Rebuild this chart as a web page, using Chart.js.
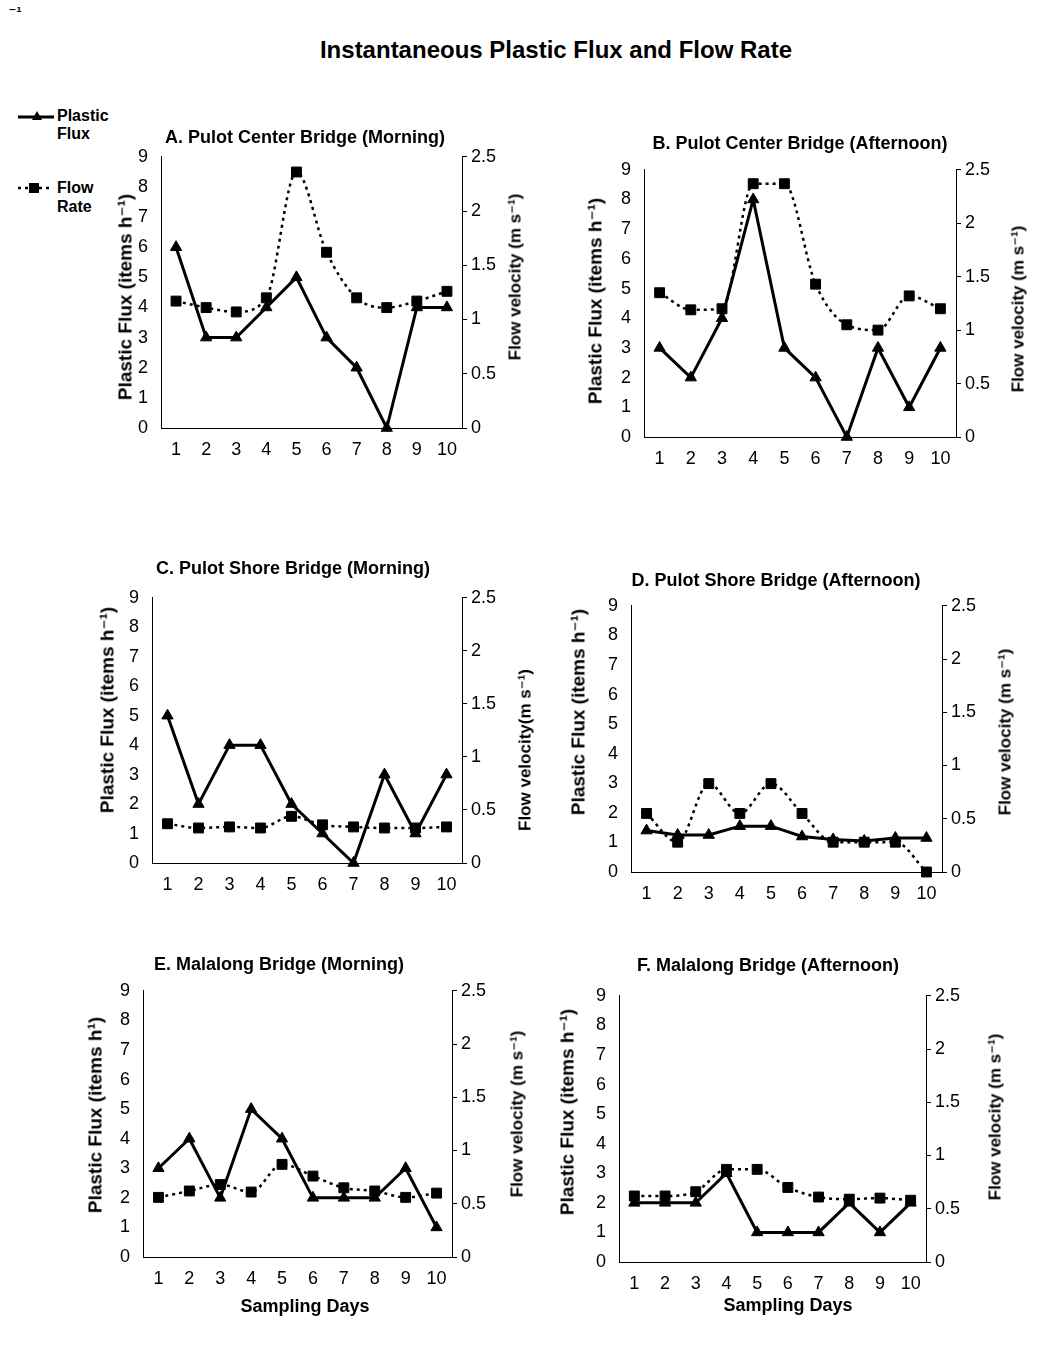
<!DOCTYPE html>
<html>
<head>
<meta charset="utf-8">
<script src="https://cdn.jsdelivr.net/npm/chart.js@4.4.0/dist/chart.umd.min.js"></script>
<style>
  html, body { margin:0; padding:0; background:#fff; }
  body { width:1064px; height:1348px; position:relative; overflow:hidden;
         font-family:'Liberation Sans', Arial, 'DejaVu Sans', sans-serif; color:#000; }
  .t { position:absolute; white-space:nowrap; line-height:1; font-weight:bold; transform:translate(-50%,-50%); }
  .v { transform:translate(-50%,-50%) rotate(-90deg); }
  canvas { position:absolute; }
</style>
</head>
<body>
<div class="t" style="left:15px;top:11px;font-size:15px;">⁻¹</div>
<div class="t" style="left:556px;top:50px;font-size:24px;">Instantaneous Plastic Flux and Flow Rate</div>

<svg style="position:absolute;left:0;top:0" width="60" height="220">
  <line x1="18" y1="117" x2="54" y2="117" stroke="#000" stroke-width="3"/>
  <polygon points="37,111 42,120 32,120" fill="#000"/>
  <line x1="18" y1="188" x2="53" y2="188" stroke="#000" stroke-width="2.5" stroke-dasharray="3,4"/>
  <rect x="29" y="183" width="10" height="10" fill="#000"/>
</svg>
<div class="t" style="left:57px;top:116px;font-size:16px;transform:translate(0,-50%);">Plastic</div>
<div class="t" style="left:57px;top:134px;font-size:16px;transform:translate(0,-50%);">Flux</div>
<div class="t" style="left:57px;top:188px;font-size:16px;transform:translate(0,-50%);">Flow</div>
<div class="t" style="left:57px;top:207px;font-size:16px;transform:translate(0,-50%);">Rate</div>

<div id="wrap"></div>

<script>
// ---- data ----
const days = ['1','2','3','4','5','6','7','8','9','10'];

const fluxA = [6, 3, 3, 4, 5, 3, 2, 0, 4, 4];
const flowA = [1.17, 1.11, 1.07, 1.20, 2.36, 1.62, 1.20, 1.11, 1.17, 1.26];

const fluxB = [3, 2, 4, 8, 3, 2, 0, 3, 1, 3];
const flowB = [1.35, 1.19, 1.20, 2.37, 2.37, 1.43, 1.05, 1.00, 1.32, 1.20];

const fluxC = [5, 2, 4, 4, 2, 1, 0, 3, 1, 3];
const flowC = [0.37, 0.33, 0.34, 0.33, 0.44, 0.36, 0.34, 0.33, 0.33, 0.34];

const fluxD = [1.4, 1.25, 1.25, 1.55, 1.55, 1.2, 1.1, 1.05, 1.15, 1.15];
const flowD = [0.55, 0.28, 0.83, 0.55, 0.83, 0.55, 0.28, 0.28, 0.28, 0];

const fluxE = [3, 4, 2, 5, 4, 2, 2, 2, 3, 1];
const flowE = [0.56, 0.62, 0.68, 0.61, 0.87, 0.76, 0.65, 0.62, 0.56, 0.60];

const fluxF = [2, 2, 2, 3, 1, 1, 1, 2, 1, 2];
const flowF = [0.62, 0.62, 0.66, 0.87, 0.87, 0.70, 0.61, 0.59, 0.60, 0.58];

const panelTitles = [
  'A. Pulot Center Bridge (Morning)',
  'B. Pulot Center Bridge (Afternoon)',
  'C. Pulot Shore Bridge (Morning)',
  'D. Pulot Shore Bridge (Afternoon)',
  'E. Malalong Bridge (Morning)',
  'F. Malalong Bridge (Afternoon)'
];
const fluxTitles = [
  'Plastic Flux (items h⁻¹)', 'Plastic Flux (items h⁻¹)', 'Plastic Flux (items h⁻¹)',
  'Plastic Flux (items h⁻¹)', 'Plastic Flux (items h¹)', 'Plastic Flux (items h⁻¹)'
];
const flowTitles = [
  'Flow velocity (m s⁻¹)', 'Flow velocity (m s⁻¹)', 'Flow velocity(m s⁻¹)',
  'Flow velocity (m s⁻¹)', 'Flow velocity (m s⁻¹)', 'Flow velocity (m s⁻¹)'
];
const xTitles = ['', '', '', '', 'Sampling Days', 'Sampling Days'];
const fluxMax = 9, fluxStep = 1;
const flowMax = 2.5, flowStep = 0.5;

const fluxSeries = [fluxA, fluxB, fluxC, fluxD, fluxE, fluxF];
const flowSeries = [flowA, flowB, flowC, flowD, flowE, flowF];

// ---- layout (pixel positions of each panel) ----
const layouts = [
  { plot:[161,155,462,428], title:[305,137], yT:[125,297], y1T:[515,277], xT:null },
  { plot:[644,168,956,437], title:[800,143], yT:[595,301], y1T:[1018,309], xT:null },
  { plot:[152,596,462,863], title:[293,568], yT:[107,710], y1T:[525,750], xT:null },
  { plot:[631,604,942,872], title:[776,580], yT:[578,712], y1T:[1005,732], xT:null },
  { plot:[143,989,452,1257], title:[279,964], yT:[95,1115], y1T:[517,1114], xT:[305,1306] },
  { plot:[619,994,926,1262], title:[768,965], yT:[567,1112], y1T:[995,1117], xT:[788,1305] }
];

const FONT = "'Liberation Sans', Arial, 'DejaVu Sans', sans-serif";
const wrap = document.getElementById('wrap');

function addText(txt, x, y, size, vertical) {
  const d = document.createElement('div');
  d.className = 't' + (vertical ? ' v' : '');
  d.style.left = x + 'px';
  d.style.top = y + 'px';
  d.style.fontSize = size + 'px';
  d.textContent = txt;
  wrap.appendChild(d);
}

const padL = 60, padR = 60, padT = 22, padB = 40;

layouts.forEach((L, i) => {
  const [x0, y0, x1, y1] = L.plot;
  const c = document.createElement('canvas');
  const w = (x1 - x0) + padL + padR;
  const h = (y1 - y0) + padT + padB;
  c.width = w; c.height = h;
  c.style.width = w + 'px'; c.style.height = h + 'px';
  c.style.left = (x0 - padL) + 'px';
  c.style.top = (y0 - padT) + 'px';
  wrap.appendChild(c);

  addText(panelTitles[i], L.title[0], L.title[1], 18, false);
  addText(fluxTitles[i], L.yT[0], L.yT[1], 19, true);
  addText(flowTitles[i], L.y1T[0], L.y1T[1], 17, true);
  if (L.xT) addText(xTitles[i], L.xT[0], L.xT[1], 18, false);

  const tickFont = { family: FONT, size: 18 };
  const border = { display: true, color: '#000', width: 1 };

  new Chart(c, {
    type: 'line',
    data: {
      labels: days,
      datasets: [
        { label: 'Plastic Flux', data: fluxSeries[i], yAxisID: 'y',
          borderColor: '#000', backgroundColor: '#000', borderWidth: 3,
          pointStyle: 'triangle', pointRadius: 6.5, pointHoverRadius: 6.5,
          pointBorderWidth: 1, tension: 0, clip: false },
        { label: 'Flow Rate', data: flowSeries[i], yAxisID: 'y1',
          borderColor: '#000', backgroundColor: '#000', borderWidth: 2.5,
          borderDash: [3, 4], pointStyle: 'rect', pointRadius: 7, pointHoverRadius: 7,
          pointBorderWidth: 1, cubicInterpolationMode: 'monotone', clip: false }
      ]
    },
    options: {
      responsive: false,
      animation: false,
      events: [],
      layout: { padding: { top: padT, left: 0, right: 0, bottom: 0 } },
      plugins: { legend: { display: false }, tooltip: { enabled: false }, title: { display: false } },
      scales: {
        x: {
          offset: true,
          grid: { display: false, drawTicks: false },
          border: border,
          ticks: { color: '#000', font: tickFont, padding: 11, maxRotation: 0, autoSkip: false },
          afterFit(s) { s.height = padB; }
        },
        y: {
          position: 'left', min: 0, max: fluxMax,
          grid: { display: false, drawTicks: false },
          border: border,
          ticks: { stepSize: fluxStep, color: '#000', font: tickFont, padding: 13 },
          afterFit(s) { s.width = padL; }
        },
        y1: {
          position: 'right', min: 0, max: flowMax,
          grid: { display: true, drawOnChartArea: false, drawTicks: true, tickLength: 5, color: '#000', lineWidth: 1 },
          border: border,
          ticks: { stepSize: flowStep, color: '#000', font: tickFont, padding: 4, callback: v => String(v) },
          afterFit(s) { s.width = padR; }
        }
      }
    }
  });
});
</script>
</body>
</html>
